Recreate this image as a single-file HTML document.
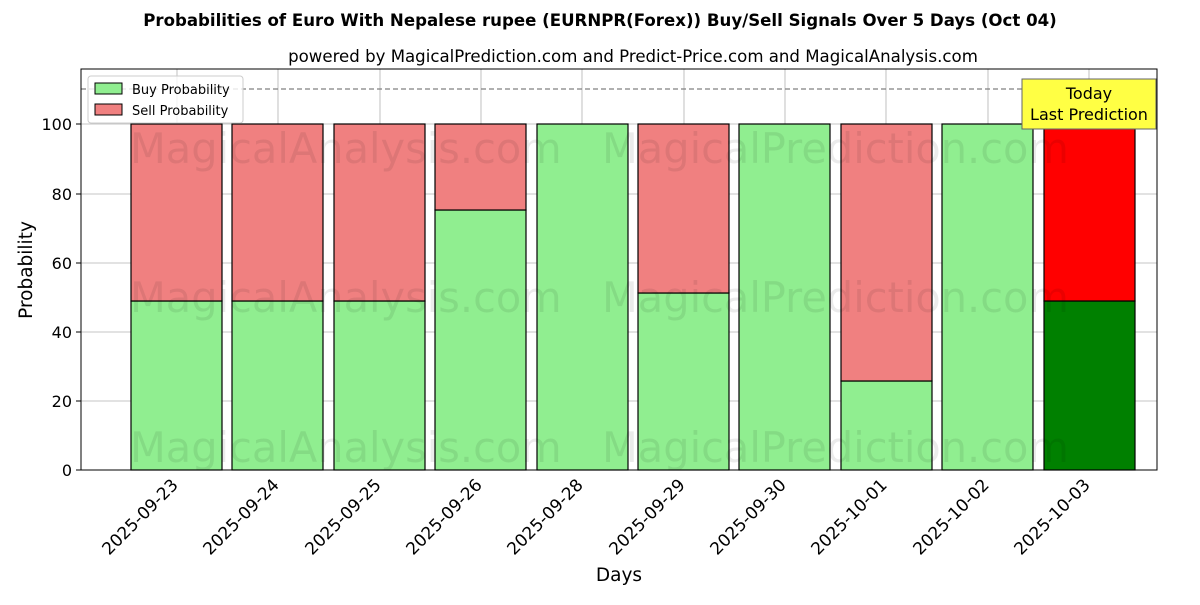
<!DOCTYPE html>
<html><head><meta charset="utf-8"><style>body{margin:0;background:#fff}</style></head><body>
<svg width="1200" height="600" xmlns="http://www.w3.org/2000/svg" font-family="'DejaVu Sans', 'Liberation Sans', sans-serif">
<rect width="1200" height="600" fill="#fff"/>
<text x="600" y="26" text-anchor="middle" font-size="16.6" font-weight="bold">Probabilities of Euro With Nepalese rupee (EURNPR(Forex)) Buy/Sell Signals Over 5 Days (Oct 04)</text>
<text x="633" y="62" text-anchor="middle" font-size="16.6">powered by MagicalPrediction.com and Predict-Price.com and MagicalAnalysis.com</text>
<g stroke="#b0b0b0" stroke-width="0.8">
<line x1="177" y1="69" x2="177" y2="470"/><line x1="278" y1="69" x2="278" y2="470"/><line x1="380" y1="69" x2="380" y2="470"/><line x1="481" y1="69" x2="481" y2="470"/><line x1="582" y1="69" x2="582" y2="470"/><line x1="684" y1="69" x2="684" y2="470"/><line x1="785" y1="69" x2="785" y2="470"/><line x1="886" y1="69" x2="886" y2="470"/><line x1="988" y1="69" x2="988" y2="470"/><line x1="1089" y1="69" x2="1089" y2="470"/>
<line x1="81" y1="401" x2="1157" y2="401"/><line x1="81" y1="332" x2="1157" y2="332"/><line x1="81" y1="263" x2="1157" y2="263"/><line x1="81" y1="194" x2="1157" y2="194"/><line x1="81" y1="124" x2="1157" y2="124"/>
</g>
<g stroke="#000" stroke-width="1.2">
<rect x="131" y="301" width="91" height="169" fill="#90ee90"/><rect x="131" y="124" width="91" height="177" fill="#f08080"/>
<rect x="232" y="301" width="91" height="169" fill="#90ee90"/><rect x="232" y="124" width="91" height="177" fill="#f08080"/>
<rect x="334" y="301" width="91" height="169" fill="#90ee90"/><rect x="334" y="124" width="91" height="177" fill="#f08080"/>
<rect x="435" y="210" width="91" height="260" fill="#90ee90"/><rect x="435" y="124" width="91" height="86" fill="#f08080"/>
<rect x="537" y="124" width="91" height="346" fill="#90ee90"/>
<rect x="638" y="293" width="91" height="177" fill="#90ee90"/><rect x="638" y="124" width="91" height="169" fill="#f08080"/>
<rect x="739" y="124" width="91" height="346" fill="#90ee90"/>
<rect x="841" y="381" width="91" height="89" fill="#90ee90"/><rect x="841" y="124" width="91" height="257" fill="#f08080"/>
<rect x="942" y="124" width="91" height="346" fill="#90ee90"/>
<rect x="1044" y="301" width="91" height="169" fill="#008000"/><rect x="1044" y="124" width="91" height="177" fill="#ff0000"/>
</g>
<g fill="#000" fill-opacity="0.08" font-size="41.5">
<text x="130" y="163">MagicalAnalysis.com</text><text x="602" y="163">MagicalPrediction.com</text>
<text x="130" y="312">MagicalAnalysis.com</text><text x="602" y="312">MagicalPrediction.com</text>
<text x="130" y="462">MagicalAnalysis.com</text><text x="602" y="462">MagicalPrediction.com</text>
</g>
<line x1="81" y1="89" x2="1157" y2="89" stroke="#808080" stroke-width="1.2" stroke-dasharray="5,3"/>
<rect x="81" y="69" width="1076" height="401" fill="none" stroke="#000" stroke-width="1"/>
<rect x="1022" y="79" width="134" height="50" fill="#ffff44" stroke="#666" stroke-width="1"/>
<text x="1089" y="99" text-anchor="middle" font-size="16">Today</text>
<text x="1089" y="120" text-anchor="middle" font-size="16">Last Prediction</text>
<rect x="88" y="76" width="155" height="47" fill="#fff" fill-opacity="0.8" stroke="#ccc" rx="3"/>
<rect x="95" y="83" width="27" height="11" fill="#90ee90" stroke="#000"/><text x="132" y="94" font-size="13">Buy Probability</text>
<rect x="95" y="104" width="27" height="11" fill="#f08080" stroke="#000"/><text x="132" y="115" font-size="13">Sell Probability</text>
<g font-size="16" text-anchor="end">
<text x="72" y="476">0</text><text x="72" y="407">20</text><text x="72" y="338">40</text><text x="72" y="269">60</text><text x="72" y="200">80</text><text x="72" y="130">100</text>
</g>
<g stroke="#000"><line x1="76" y1="470" x2="81" y2="470"/><line x1="76" y1="401" x2="81" y2="401"/><line x1="76" y1="332" x2="81" y2="332"/><line x1="76" y1="263" x2="81" y2="263"/><line x1="76" y1="194" x2="81" y2="194"/><line x1="76" y1="124" x2="81" y2="124"/></g>
<text transform="translate(32,270) rotate(-90)" text-anchor="middle" font-size="18.5">Probability</text>
<g font-size="17" text-anchor="end">
<text transform="translate(179,486) rotate(-45)">2025-09-23</text>
<text transform="translate(280,486) rotate(-45)">2025-09-24</text>
<text transform="translate(382,486) rotate(-45)">2025-09-25</text>
<text transform="translate(483,486) rotate(-45)">2025-09-26</text>
<text transform="translate(584,486) rotate(-45)">2025-09-28</text>
<text transform="translate(686,486) rotate(-45)">2025-09-29</text>
<text transform="translate(787,486) rotate(-45)">2025-09-30</text>
<text transform="translate(888,486) rotate(-45)">2025-10-01</text>
<text transform="translate(990,486) rotate(-45)">2025-10-02</text>
<text transform="translate(1091,486) rotate(-45)">2025-10-03</text>
</g>
<text x="619" y="581" text-anchor="middle" font-size="18.5">Days</text>
</svg>
</body></html>
